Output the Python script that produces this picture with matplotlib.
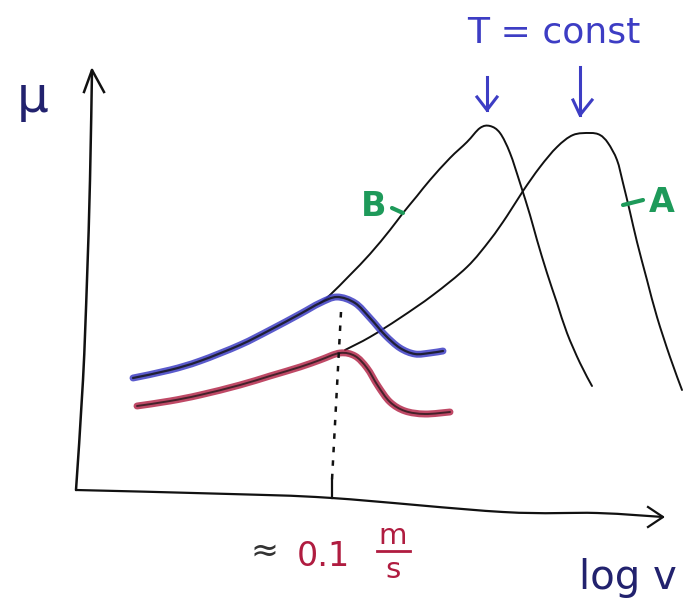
import numpy as np
import matplotlib
matplotlib.use("Agg")
import matplotlib.pyplot as plt
from matplotlib.path import Path
from matplotlib.patches import PathPatch

# hand sketch: friction coefficient mu vs log v (units: 1 = 100 px of the sketch)
blue_x = [0.57, 0.94, 1.24, 1.64, 1.94, 2.24, 2.44, 2.61, 2.79, 2.94, 3.09, 3.24, 3.39, 3.54, 3.67]
blue_y = [1.12, 1.20, 1.29, 1.45, 1.60, 1.76, 1.87, 1.93, 1.87, 1.72, 1.55, 1.42, 1.36, 1.37, 1.39]

red_x = [0.61, 0.94, 1.24, 1.64, 1.94, 2.24, 2.44, 2.64, 2.79, 2.91, 3.02, 3.14, 3.29, 3.49, 3.74]
red_y = [0.84, 0.89, 0.95, 1.05, 1.14, 1.23, 1.30, 1.37, 1.34, 1.22, 1.04, 0.88, 0.79, 0.76, 0.78]

b_x = [2.44, 2.54, 2.74, 2.94, 3.14, 3.27, 3.41, 3.54, 3.74, 3.91, 4.04, 4.14, 4.24, 4.34,
       4.44, 4.54, 4.61, 4.71, 4.81, 4.91, 5.04, 5.16]
b_y = [1.87, 1.95, 2.15, 2.36, 2.60, 2.77, 2.94, 3.10, 3.32, 3.48, 3.62, 3.64, 3.57, 3.37,
       3.07, 2.75, 2.50, 2.17, 1.87, 1.57, 1.27, 1.04]

a_x = [2.69, 2.94, 3.24, 3.57, 3.91, 4.14, 4.31, 4.47, 4.64, 4.81, 4.97, 5.14, 5.24, 5.32,
       5.41, 5.47, 5.54, 5.61, 5.71, 5.81, 5.94, 6.06]
a_y = [1.40, 1.53, 1.72, 1.95, 2.23, 2.50, 2.74, 2.99, 3.23, 3.43, 3.55, 3.57, 3.55, 3.47,
       3.30, 3.07, 2.78, 2.48, 2.10, 1.73, 1.33, 1.00]

# hand drawn axes
yax_x = [0.0, 0.07, 0.11, 0.14, 0.16]
yax_y = [0.0, 1.10, 2.10, 3.10, 4.20]
xax_x = [0.0, 1.54, 2.56, 4.27, 5.21, 5.87]
xax_y = [0.0, -0.04, -0.08, -0.22, -0.23, -0.27]

v_mark = 2.56  # ~0.1 m/s

navy = "#22226e"
blue = "#3d3dc4"
crimson = "#b01c40"
green = "#1e9a5a"
ink = "#111111"


def smooth_path(xs, ys):
    # catmull-rom through the read points, drawn as cubic bezier segments
    p = np.column_stack([xs, ys])
    verts = [p[0]]
    codes = [Path.MOVETO]
    n = len(p)
    for i in range(n - 1):
        p0 = p[i - 1] if i > 0 else p[i]
        p1 = p[i]
        p2 = p[i + 1]
        p3 = p[i + 2] if i + 2 < n else p[i + 1]
        verts += [p1 + (p2 - p0) / 6, p2 - (p3 - p1) / 6, p2]
        codes += [Path.CURVE4] * 3
    return Path(verts, codes)


def curve(ax, xs, ys, **kw):
    ax.add_patch(PathPatch(smooth_path(xs, ys), fill=False, capstyle="round",
                           joinstyle="round", **kw))


fig = plt.figure(figsize=(6.89, 6.13), dpi=100)
ax = fig.add_axes([0, 0, 1, 1])
ax.set_xlim(-0.76, 6.13)
ax.set_ylim(-1.23, 4.90)
ax.axis("off")

# axes
curve(ax, yax_x, yax_y, edgecolor=ink, lw=1.8)
ax.plot([0.08, 0.16, 0.28], [3.98, 4.20, 3.98], color=ink, lw=1.8, solid_joinstyle="round")
curve(ax, xax_x, xax_y, edgecolor=ink, lw=1.6)
ax.plot([5.72, 5.87, 5.72], [-0.17, -0.27, -0.37], color=ink, lw=1.6, solid_joinstyle="round")

# tick and dotted guide
ax.plot([v_mark, v_mark], [0.10, -0.08], color=ink, lw=1.6)
ax.plot([2.65, v_mark], [1.78, 0.10], color=ink, lw=1.8, dashes=(2.2, 3.2))

# black curves
curve(ax, b_x, b_y, edgecolor=ink, lw=1.4)
curve(ax, a_x, a_y, edgecolor=ink, lw=1.4)

# coloured curves (marker over pencil)
curve(ax, blue_x, blue_y, edgecolor=blue, lw=5, alpha=0.85)
curve(ax, blue_x, blue_y, edgecolor=ink, lw=1.6, alpha=0.8)
curve(ax, red_x, red_y, edgecolor=crimson, lw=5, alpha=0.8)
curve(ax, red_x, red_y, edgecolor=ink, lw=1.4, alpha=0.7)

# curve labels
ax.plot([3.16, 3.27], [2.82, 2.77], color=green, lw=3, solid_capstyle="round")
ax.text(2.98, 2.84, "B", color=green, fontsize=24, fontweight="bold", ha="center", va="center")
ax.plot([5.47, 5.67], [2.85, 2.90], color=green, lw=3, solid_capstyle="round")
ax.text(5.86, 2.88, "A", color=green, fontsize=24, fontweight="bold", ha="center", va="center")

# T = const arrows
ax.text(4.78, 4.58, "T = const", color=blue, fontsize=26, ha="center", va="center")
ax.plot([4.11, 4.11], [4.13, 3.80], color=blue, lw=2.2)
ax.plot([4.01, 4.11, 4.21], [3.93, 3.80, 3.93], color=blue, lw=2.2, solid_joinstyle="round")
ax.plot([5.04, 5.04], [4.23, 3.75], color=blue, lw=2.2)
ax.plot([4.97, 5.04, 5.16], [3.90, 3.75, 3.90], color=blue, lw=2.2, solid_joinstyle="round")

# axis labels
ax.text(-0.43, 3.92, "μ", color=navy, fontsize=36, ha="center", va="center")
ax.text(5.52, -0.88, "log v", color=navy, fontsize=29, ha="center", va="center")

ax.text(1.88, -0.61, "≈", color="#333333", fontsize=24, ha="center", va="center")
ax.text(2.47, -0.66, "0.1", color=crimson, fontsize=24, ha="center", va="center")
ax.text(3.17, -0.46, "m", color=crimson, fontsize=21, ha="center", va="center")
ax.plot([3.01, 3.34], [-0.61, -0.61], color=crimson, lw=2)
ax.text(3.17, -0.80, "s", color=crimson, fontsize=21, ha="center", va="center")

fig.savefig("out.png", dpi=100)
